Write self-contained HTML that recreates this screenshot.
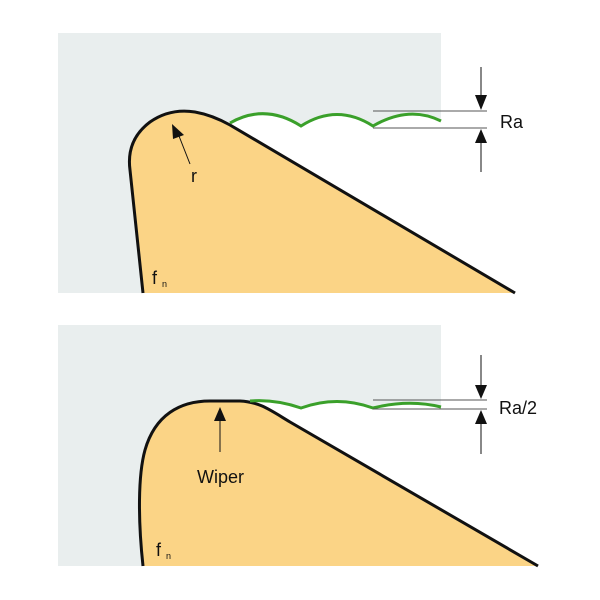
<!DOCTYPE html>
<html><head><style>body{margin:0;background:#fff}svg{display:block}</style></head><body>
<svg width="600" height="600" viewBox="0 0 600 600" xmlns="http://www.w3.org/2000/svg" font-family="Liberation Sans, sans-serif">
<rect x="58" y="33" width="383" height="260" fill="#e9eeee"/>
<path d="M230,125 Q250,113 266,113 Q286,113 301,126 Q320,113 337,113 Q357,113 373,126 Q393,113 410,113 Q430,113 441,121 L441,293 L515,293 Z" fill="#fff"/>
<path d="M143,293 L130,170 Q126,140 150,122 Q170,108 195,112 Q212,115 230,125 L515,293 Z" fill="#fbd486"/>
<path d="M143,293 L130,170 Q126,140 150,122 Q170,108 195,112 Q212,115 230,125 L515,293" fill="none" stroke="#111" stroke-width="3" stroke-linejoin="round"/>
<path d="M230,123 Q265,103 301,126 Q337,103 373,126 Q409,105 441,121" fill="none" stroke="#3aa02a" stroke-width="3"/>
<line x1="373" y1="111" x2="487" y2="111" stroke="#555" stroke-width="1"/>
<line x1="373" y1="128" x2="487" y2="128" stroke="#555" stroke-width="1"/>
<line x1="481" y1="67" x2="481" y2="95" stroke="#111"/><polygon points="475,95 487,95 481,110" fill="#111"/>
<line x1="481" y1="143" x2="481" y2="172" stroke="#111"/><polygon points="475,143 487,143 481,129" fill="#111"/>
<text x="500" y="128" font-size="18" fill="#111">Ra</text>
<line x1="190" y1="164" x2="179" y2="136" stroke="#111"/><polygon points="172,124 184,135 173,139" fill="#111"/>
<text x="191" y="182" font-size="18" fill="#111">r</text>
<text x="152" y="284" font-size="18" fill="#111">f</text><text x="162" y="287" font-size="9" fill="#111">n</text>

<rect x="58" y="325" width="383" height="241" fill="#e9eeee"/>
<path d="M250,401 Q275,399 301,408 Q337,397 373,408 Q409,399 441,407 L441,566 L538,566 Z" fill="#fff"/>
<path d="M143,566 C138,520 138,475 145,450 C155,415 180,401 210,401 L240,401 C260,402 270,410 290,422 L538,566 Z" fill="#fbd486"/>
<path d="M143,566 C138,520 138,475 145,450 C155,415 180,401 210,401 L240,401 C260,402 270,410 290,422 L538,566" fill="none" stroke="#111" stroke-width="3" stroke-linejoin="round"/>
<path d="M250,401 Q275,399 301,408 Q337,395 373,408 Q409,399 441,407" fill="none" stroke="#3aa02a" stroke-width="3"/>
<line x1="373" y1="400" x2="487" y2="400" stroke="#555"/>
<line x1="373" y1="409" x2="487" y2="409" stroke="#555"/>
<line x1="481" y1="355" x2="481" y2="385" stroke="#111"/><polygon points="475,385 487,385 481,399" fill="#111"/>
<line x1="481" y1="424" x2="481" y2="454" stroke="#111"/><polygon points="475,424 487,424 481,410" fill="#111"/>
<text x="499" y="414" font-size="18" fill="#111">Ra/2</text>
<line x1="220" y1="420" x2="220" y2="452" stroke="#111"/><polygon points="214,421 226,421 220,407" fill="#111"/>
<text x="197" y="483" font-size="18" fill="#111">Wiper</text>
<text x="156" y="556" font-size="18" fill="#111">f</text><text x="166" y="559" font-size="9" fill="#111">n</text>
</svg>
</body></html>
